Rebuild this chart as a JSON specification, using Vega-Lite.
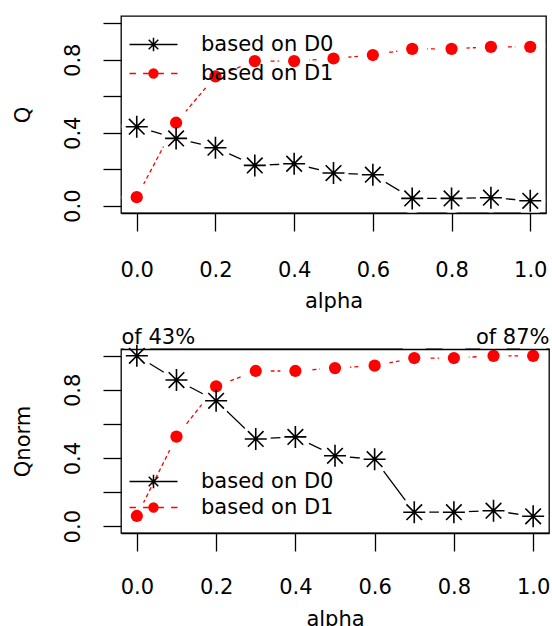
{
  "$schema": "https://vega.github.io/schema/vega-lite/v6.json",
  "background": "white",
  "padding": {"left": 11, "top": 15, "right": 2, "bottom": 0},
  "spacing": 13,
  "resolve": {
    "scale": {"shape": "independent", "fill": "independent", "stroke": "independent"},
    "legend": {"shape": "independent", "fill": "independent", "stroke": "independent"}
  },
  "config": {
    "font": "DejaVu Sans",
    "view": {"stroke": "black", "strokeWidth": 1.3},
    "axis": {
      "labelFont": "DejaVu Sans", "titleFont": "DejaVu Sans",
      "labelFontSize": 21, "titleFontSize": 21, "titleFontWeight": "normal",
      "labelColor": "black", "titleColor": "black",
      "tickColor": "black", "domainColor": "black",
      "grid": false, "tickSize": 18, "tickWidth": 1.3, "domainWidth": 1.3
    }
  },
  "datasets": {
    "qdata": [
      {"alpha": 0.0, "series": "based on D0", "Q": 0.433, "Qnorm": 1.0},
      {"alpha": 0.1, "series": "based on D0", "Q": 0.369, "Qnorm": 0.858},
      {"alpha": 0.2, "series": "based on D0", "Q": 0.318, "Qnorm": 0.736},
      {"alpha": 0.3, "series": "based on D0", "Q": 0.221, "Qnorm": 0.512},
      {"alpha": 0.4, "series": "based on D0", "Q": 0.230, "Qnorm": 0.524},
      {"alpha": 0.5, "series": "based on D0", "Q": 0.179, "Qnorm": 0.413},
      {"alpha": 0.6, "series": "based on D0", "Q": 0.170, "Qnorm": 0.393},
      {"alpha": 0.7, "series": "based on D0", "Q": 0.040, "Qnorm": 0.082},
      {"alpha": 0.8, "series": "based on D0", "Q": 0.040, "Qnorm": 0.082},
      {"alpha": 0.9, "series": "based on D0", "Q": 0.044, "Qnorm": 0.091},
      {"alpha": 1.0, "series": "based on D0", "Q": 0.027, "Qnorm": 0.058},
      {"alpha": 0.0, "series": "based on D1", "Q": 0.047, "Qnorm": 0.060},
      {"alpha": 0.1, "series": "based on D1", "Q": 0.455, "Qnorm": 0.526},
      {"alpha": 0.2, "series": "based on D1", "Q": 0.709, "Qnorm": 0.821},
      {"alpha": 0.3, "series": "based on D1", "Q": 0.793, "Qnorm": 0.911},
      {"alpha": 0.4, "series": "based on D1", "Q": 0.793, "Qnorm": 0.911},
      {"alpha": 0.5, "series": "based on D1", "Q": 0.807, "Qnorm": 0.928},
      {"alpha": 0.6, "series": "based on D1", "Q": 0.826, "Qnorm": 0.942},
      {"alpha": 0.7, "series": "based on D1", "Q": 0.860, "Qnorm": 0.987},
      {"alpha": 0.8, "series": "based on D1", "Q": 0.860, "Qnorm": 0.987},
      {"alpha": 0.9, "series": "based on D1", "Q": 0.871, "Qnorm": 1.0},
      {"alpha": 1.0, "series": "based on D1", "Q": 0.871, "Qnorm": 1.0}
    ]
  },
  "data": {"name": "qdata"},
  "vconcat": [
    {
      "width": 425,
      "height": 197,
      "encoding": {
        "x": {
          "field": "alpha", "type": "quantitative",
          "scale": {"domain": [-0.04, 1.04], "nice": false, "zero": false},
          "axis": {
            "values": [0, 0.2, 0.4, 0.6, 0.8, 1], "format": ".1f", "title": "alpha",
            "labelPadding": 28, "titlePadding": 10, "labelFlush": false,
            "domain": true, "zindex": 1
          }
        },
        "y": {
          "field": "Q", "type": "quantitative",
          "scale": {"domain": [-0.04, 1.04], "nice": false, "zero": false},
          "axis": {
            "values": [0, 0.2, 0.4, 0.6, 0.8, 1],
            "labelExpr": "abs(datum.value) < 0.001 || abs(datum.value - 0.4) < 0.001 || abs(datum.value - 0.8) < 0.001 ? format(datum.value, '.1f') : ''",
            "title": "Q", "labelAngle": 270, "labelAlign": "center", "labelBaseline": "bottom",
            "labelPadding": 20, "titlePadding": 29, "domain": false
          }
        }
      },
      "layer": [
        {
          "transform": [{"filter": "datum.series == 'based on D1'"}],
          "mark": {"type": "line", "color": "red", "strokeWidth": 1.3, "strokeDash": [4, 3]}
        },
        {
          "transform": [{"filter": "datum.series == 'based on D0'"}],
          "mark": {"type": "line", "color": "black", "strokeWidth": 1.3}
        },
        {
          "mark": {"type": "point", "filled": true, "color": "white", "size": 900, "opacity": 1}
        },
        {
          "transform": [{"filter": "datum.series == 'based on D1'"}],
          "mark": {"type": "point", "shape": "circle", "filled": true, "color": "red", "size": 150, "opacity": 1}
        },
        {
          "transform": [{"filter": "datum.series == 'based on D0'"}],
          "mark": {"type": "point", "shape": "M-1,0H1M0,-1V1M-0.71,-0.71L0.71,0.71M-0.71,0.71L0.71,-0.71", "filled": false, "color": "black", "size": 484, "strokeWidth": 1.6, "opacity": 1}
        },
        {
          "transform": [{"filter": "datum.alpha < -1"}],
          "mark": {"type": "point", "filled": true, "strokeWidth": 1.5, "opacity": 1},
          "encoding": {
            "shape": {
              "field": "series", "type": "nominal",
              "scale": {"domain": ["based on D0", "based on D1"], "range": ["M-3,0H3M0,-0.85V0.85M-0.6,-0.6L0.6,0.6M-0.6,0.6L0.6,-0.6", "M-3,0H-2.2M-1.3,0H-0.6M0.6,0H1.3M2.2,0H3M-0.55,0A0.55,0.55 0 1,0 0.55,0A0.55,0.55 0 1,0 -0.55,0Z"]},
              "legend": {"orient": "none", "legendX": 22, "legendY": 18, "title": null, "padding": 0, "symbolSize": 256, "symbolStrokeWidth": 1.5, "labelFont": "DejaVu Sans", "labelFontSize": 21, "labelColor": "black", "labelOffset": 37, "rowPadding": 7, "symbolOpacity": 1}
            },
            "fill": {
              "field": "series", "type": "nominal",
              "scale": {"domain": ["based on D0", "based on D1"], "range": ["black", "red"]},
              "legend": {"orient": "none", "legendX": 22, "legendY": 18, "title": null, "padding": 0, "symbolSize": 256, "symbolStrokeWidth": 1.5, "labelFont": "DejaVu Sans", "labelFontSize": 21, "labelColor": "black", "labelOffset": 37, "rowPadding": 7, "symbolOpacity": 1}
            },
            "stroke": {
              "field": "series", "type": "nominal",
              "scale": {"domain": ["based on D0", "based on D1"], "range": ["black", "red"]},
              "legend": {"orient": "none", "legendX": 22, "legendY": 18, "title": null, "padding": 0, "symbolSize": 256, "symbolStrokeWidth": 1.5, "labelFont": "DejaVu Sans", "labelFontSize": 21, "labelColor": "black", "labelOffset": 37, "rowPadding": 7, "symbolOpacity": 1}
            }
          }
        }
      ]
    },
    {
      "width": 428,
      "height": 184,
      "resolve": {"axis": {"x": "independent"}},
      "encoding": {
        "x": {
          "field": "alpha", "type": "quantitative",
          "scale": {"domain": [-0.04, 1.04], "nice": false, "zero": false},
          "axis": null
        },
        "y": {
          "field": "Qnorm", "type": "quantitative",
          "scale": {"domain": [-0.04, 1.04], "nice": false, "zero": false},
          "axis": {
            "values": [0, 0.2, 0.4, 0.6, 0.8, 1],
            "labelExpr": "abs(datum.value) < 0.001 || abs(datum.value - 0.4) < 0.001 || abs(datum.value - 0.8) < 0.001 ? format(datum.value, '.1f') : ''",
            "title": "Qnorm", "labelAngle": 270, "labelAlign": "center", "labelBaseline": "bottom",
            "labelPadding": 20, "titlePadding": 29, "domain": false
          }
        }
      },
      "layer": [
        {
          "transform": [{"filter": "datum.series == 'based on D1'"}],
          "mark": {"type": "line", "color": "red", "strokeWidth": 1.3, "strokeDash": [4, 3]}
        },
        {
          "transform": [{"filter": "datum.series == 'based on D0'"}],
          "mark": {"type": "line", "color": "black", "strokeWidth": 1.3},
          "encoding": {
            "x": {
              "field": "alpha", "type": "quantitative",
              "scale": {"domain": [-0.04, 1.04], "nice": false, "zero": false},
              "axis": {
                "values": [0, 0.2, 0.4, 0.6, 0.8, 1], "format": ".1f", "title": "alpha",
                "labelPadding": 25, "titlePadding": 11, "labelFlush": false,
                "domain": true, "zindex": 1
              }
            }
          }
        },
        {
          "mark": {"type": "point", "filled": true, "color": "white", "size": 900, "opacity": 1}
        },
        {
          "transform": [{"filter": "datum.series == 'based on D1'"}],
          "mark": {"type": "point", "shape": "circle", "filled": true, "color": "red", "size": 150, "opacity": 1}
        },
        {
          "transform": [{"filter": "datum.series == 'based on D0'"}],
          "mark": {"type": "point", "shape": "M-1,0H1M0,-1V1M-0.71,-0.71L0.71,0.71M-0.71,0.71L0.71,-0.71", "filled": false, "color": "black", "size": 484, "strokeWidth": 1.6, "opacity": 1}
        },
        {
          "transform": [{"filter": "datum.alpha < -1"}],
          "mark": {"type": "point", "filled": true, "strokeWidth": 1.5, "opacity": 1},
          "encoding": {
            "x": {
              "field": "alpha", "type": "quantitative",
              "scale": {"domain": [-0.04, 1.04], "nice": false, "zero": false},
              "axis": {
                "orient": "top", "values": [-0.04, 1.04],
                "labelExpr": "datum.value < 0.5 ? 'of 43%' : 'of 87%'",
                "labelFlush": true, "labelOverlap": false, "labelBound": false,
                "ticks": false, "tickSize": 0, "labelPadding": 2, "title": null,
                "domain": true, "zindex": 1
              }
            },
            "shape": {
              "field": "series", "type": "nominal",
              "scale": {"domain": ["based on D0", "based on D1"], "range": ["M-3,0H3M0,-0.85V0.85M-0.6,-0.6L0.6,0.6M-0.6,0.6L0.6,-0.6", "M-3,0H-2.2M-1.3,0H-0.6M0.6,0H1.3M2.2,0H3M-0.55,0A0.55,0.55 0 1,0 0.55,0A0.55,0.55 0 1,0 -0.55,0Z"]},
              "legend": {"orient": "none", "legendX": 22, "legendY": 122, "title": null, "padding": 0, "symbolSize": 256, "symbolStrokeWidth": 1.5, "labelFont": "DejaVu Sans", "labelFontSize": 21, "labelColor": "black", "labelOffset": 37, "rowPadding": 4, "symbolOpacity": 1}
            },
            "fill": {
              "field": "series", "type": "nominal",
              "scale": {"domain": ["based on D0", "based on D1"], "range": ["black", "red"]},
              "legend": {"orient": "none", "legendX": 22, "legendY": 122, "title": null, "padding": 0, "symbolSize": 256, "symbolStrokeWidth": 1.5, "labelFont": "DejaVu Sans", "labelFontSize": 21, "labelColor": "black", "labelOffset": 37, "rowPadding": 4, "symbolOpacity": 1}
            },
            "stroke": {
              "field": "series", "type": "nominal",
              "scale": {"domain": ["based on D0", "based on D1"], "range": ["black", "red"]},
              "legend": {"orient": "none", "legendX": 22, "legendY": 122, "title": null, "padding": 0, "symbolSize": 256, "symbolStrokeWidth": 1.5, "labelFont": "DejaVu Sans", "labelFontSize": 21, "labelColor": "black", "labelOffset": 37, "rowPadding": 4, "symbolOpacity": 1}
            }
          }
        }
      ]
    }
  ]
}
